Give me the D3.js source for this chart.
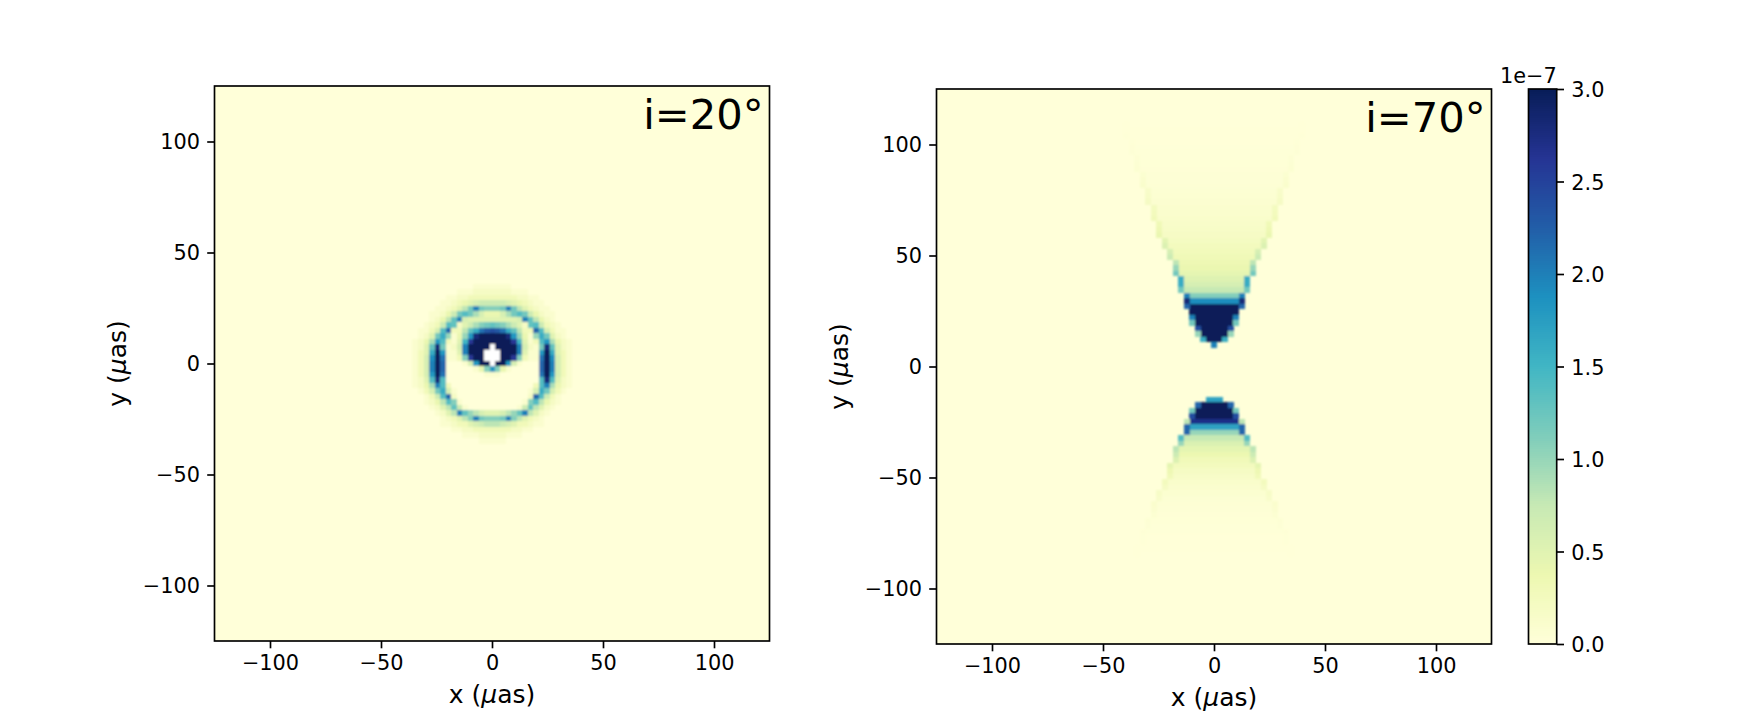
<!DOCTYPE html>
<html>
<head>
<meta charset="utf-8">
<script src="https://cdn.jsdelivr.net/npm/d3@7"></script>
<style>
html,body{margin:0;padding:0;background:#fff}
text{font-family:"DejaVu Sans",sans-serif;fill:#000}
</style>
</head>
<body>
<svg id="fig" width="1737" height="723"></svg>
<script>
// Colour stops of the intensity map, evenly spaced from 0 to vmax.
const mapColors = ["#ffffd9","#edf8b1","#c7e9b4","#7fcdbb","#41b6c4","#1d91c0","#225ea8","#253494","#081d58"];
const vmax = 30;               // tenths of 1e-7
const cellSize = 250 / 101;    // μas per pixel of the simulated image
const axisTicks = [-100, -50, 0, 50, 100];
const barTicks = [0, 0.5, 1, 1.5, 2, 2.5, 3];

// i=20°: rows from j=14 down to j=-14; each row lists |i|=0..14 (the image is left-right symmetric).
// Values in tenths of 1e-7, null marks pixels with no emission.
const ringRowIndex = [14,13,12,11,10,9,8,7,6,5,4,3,2,1,0,-1,-2,-3,-4,-5,-6,-7,-8,-9,-10,-11,-12,-13,-14];
const ringRows = [
  [1,1,1,1,0,0,0,0,0,0,0,0,0,0,0],
  [2,2,2,2,1,1,1,0,0,0,0,0,0,0,0],
  [3,3,3,3,3,2,2,1,1,0,0,0,0,0,0],
  [7,7,7,6,5,4,3,2,1,1,0,0,0,0,0],
  [11,11,12,20,12,8,5,3,2,1,1,0,0,0,0],
  [4,4,6,9,12,14,12,7,4,2,1,1,0,0,0],
  [5,5,5,5,5,6,20,13,8,4,2,1,0,0,0],
  [13,12,11,9,7,5,2,13,14,7,3,2,1,0,0],
  [24,23,21,16,13,8,3,3,22,14,6,3,1,1,0],
  [30,30,30,28,18,10,4,1,10,16,12,5,2,1,0],
  [30,30,30,30,26,15,5,1,3,14,18,9,4,2,1],
  [null,30,30,30,30,20,6,2,1,12,28,13,5,2,1],
  [null,null,30,30,30,20,5,1,1,18,30,16,5,3,1],
  [null,null,30,30,26,11,3,1,1,21,30,19,6,3,1],
  [null,30,30,18,6,1,0,0,0,22,30,20,6,3,1],
  [18,11,4,1,0,0,0,0,0,22,30,20,6,3,1],
  [1,1,0,0,0,0,0,0,0,21,30,18,6,3,1],
  [0,0,0,0,0,0,0,0,0,14,28,14,5,2,1],
  [0,0,0,0,0,0,0,0,3,14,20,9,4,2,1],
  [0,0,0,0,0,0,0,1,6,16,12,6,3,1,0],
  [0,0,0,0,0,0,0,2,22,14,7,3,1,0,0],
  [0,0,0,0,0,0,1,11,14,8,4,2,1,0,0],
  [0,0,0,0,0,1,7,13,8,5,2,1,0,0,0],
  [5,5,6,8,10,13,20,8,5,2,1,0,0,0,0],
  [11,11,12,20,11,8,5,3,2,1,0,0,0,0,0],
  [8,8,7,6,5,3,3,2,1,1,0,0,0,0,0],
  [3,3,3,3,2,2,1,1,0,0,0,0,0,0,0],
  [2,2,2,1,1,1,0,0,0,0,0,0,0,0,0],
  [1,1,1,0,0,0,0,0,0,0,0,0,0,0,0]
];

// i=70°: one entry per image row of the two jet cones.
const jetRowIndex = [4,5,6,7,8,9,10,11,12,13,14,15,16,17,18,19,20,21,22,23,24,25,26,27,28,29,30,31,32,33,34,35,36,37,38,39,40,41,42,43,44,
  -6,-7,-8,-9,-10,-11,-12,-13,-14,-15,-16,-17,-18,-19,-20,-21,-22,-23,-24,-25,-26,-27,-28,-29,-30,-31,-32,-33,-34];
const jetHalfWidth = [0,2,3,3,4,4,4,5,5,5,6,6,6,7,7,7,8,8,9,9,10,10,10,11,11,11,12,12,12,13,13,13,14,14,14,15,15,15,16,16,16,
  1,3,4,4,5,5,5,6,6,7,7,7,8,8,8,9,9,10,10,11,11,11,12,12,13,13,13,14,14];
const jetCore = [20,30,30,30,30,30,30,30,19,11,7.5,6,5.2,4.5,3.9,3.5,3.1,2.8,2.5,2.2,1.9,1.7,1.5,1.3,1.1,1,0.85,0.7,0.6,0.5,0.4,0.35,0.3,0.25,0.2,0.15,0.12,0.1,0.08,0.05,0.03,
  17,30,30,30,27,17,10,7.5,5.6,4.6,3.8,3,2.5,2,1.6,1.3,1,0.8,0.6,0.5,0.4,0.3,0.25,0.2,0.15,0.1,0.05,0.05,0.03];
const jetRim = [20,16,10,24,12,20,30,22,28,20,12,16,16,12,10,8,7,6,5.5,4.8,4,3.5,3.2,3,2.6,2.4,2,1.7,1.5,1.2,1,0.8,0.7,0.6,0.5,0.4,0.3,0.2,0.15,0.1,0.05,
  17,22,12,24,8,22,22,14,10,8,7,5.5,4.5,3.5,3,2.5,2,1.7,1.4,1.1,0.9,0.7,0.5,0.4,0.3,0.2,0.15,0.1,0.05];

const color = d3.scaleLinear()
  .domain(d3.range(mapColors.length).map(k => k * vmax / (mapColors.length - 1)))
  .range(mapColors)
  .clamp(true);

// Expand the tables into drawable cells.
const ringCells = ringRows.flatMap((row, r) => row.flatMap((v, a) =>
  (a === 0 ? [0] : [-a, a]).map(i => ({i, j: ringRowIndex[r], v}))));

const jetCells = jetRowIndex.flatMap((j, r) => {
  const hw = jetHalfWidth[r];
  const cells = [];
  for (let a = 0; a <= hw; a++) {
    const v = a === hw ? jetRim[r] : jetCore[r];
    (a === 0 ? [0] : [-a, a]).forEach(i => cells.push({i, j, v}));
  }
  return cells;
});

const svg = d3.select("#fig");
const defs = svg.append("defs");
defs.append("filter").attr("id", "soft")
  .attr("x", "-5%").attr("y", "-5%").attr("width", "110%").attr("height", "110%")
  .append("feGaussianBlur").attr("stdDeviation", 0.9);

function drawPanel(left, top, size, cells, label, id) {
  const x = d3.scaleLinear().domain([-125, 125]).range([left, left + size]);
  const y = d3.scaleLinear().domain([-125, 125]).range([top + size, top]);
  const g = svg.append("g");

  defs.append("clipPath").attr("id", id)
    .append("rect").attr("x", left).attr("y", top).attr("width", size).attr("height", size);

  g.append("rect").attr("x", left).attr("y", top).attr("width", size).attr("height", size)
    .attr("fill", color(0));

  g.append("g").attr("clip-path", `url(#${id})`)
    .append("g").attr("filter", "url(#soft)")
    .selectAll("rect").data(cells).join("rect")
    .attr("shape-rendering", "crispEdges")
    .attr("x", d => x((d.i - 0.5) * cellSize))
    .attr("y", d => y((d.j + 0.5) * cellSize))
    .attr("width", x(cellSize) - x(0) + 0.5)
    .attr("height", x(cellSize) - x(0) + 0.5)
    .attr("fill", d => d.v === null ? "#fff" : color(d.v));

  const axisBottom = d3.axisBottom(x).tickValues(axisTicks).tickSize(7.3).tickPadding(7.3).tickSizeOuter(0);
  const axisLeft = d3.axisLeft(y).tickValues(axisTicks).tickSize(7.3).tickPadding(7.3).tickSizeOuter(0);
  [[axisBottom, `translate(0,${top + size})`], [axisLeft, `translate(${left},0)`]].forEach(([ax, tf]) => {
    const a = g.append("g").attr("transform", tf).call(ax);
    a.select(".domain").remove();
    a.selectAll("line").attr("stroke", "#000").attr("stroke-width", 1.67);
    a.selectAll("text").attr("font-size", 20.83).attr("font-family", "DejaVu Sans");
  });

  g.append("rect").attr("x", left).attr("y", top).attr("width", size).attr("height", size)
    .attr("fill", "none").attr("stroke", "#000").attr("stroke-width", 1.67);

  g.append("text").attr("x", left + size - 6).attr("y", top + 43)
    .attr("text-anchor", "end").attr("font-size", 41.67).text(label);

  const xl = g.append("text").attr("x", left + size / 2).attr("y", top + size + 62)
    .attr("text-anchor", "middle").attr("font-size", 25);
  xl.append("tspan").text("x (");
  xl.append("tspan").attr("font-style", "italic").text("μ");
  xl.append("tspan").text("as)");

  const cy = top + size / 2;
  const yl = g.append("text").attr("transform", `translate(${left - 89},${cy}) rotate(-90)`)
    .attr("text-anchor", "middle").attr("font-size", 25);
  yl.append("tspan").text("y (");
  yl.append("tspan").attr("font-style", "italic").text("μ");
  yl.append("tspan").text("as)");
}

drawPanel(214.5, 86, 555, ringCells, "i=20°", "clipRing");
drawPanel(936.5, 89, 555, jetCells, "i=70°", "clipJet");

// Colour bar on the right of the second panel, one band per colormap level.
const barLeft = 1528.5, barRight = 1556.7, barTop = 89, barBottom = 644;
const barScale = d3.scaleLinear().domain([0, 3]).range([barBottom, barTop]);
const barLevels = d3.range(256);
const bar = svg.append("g");
bar.selectAll("rect").data(barLevels).join("rect")
  .attr("shape-rendering", "crispEdges")
  .attr("x", barLeft).attr("width", barRight - barLeft)
  .attr("y", k => barScale((k + 1) * 3 / 256))
  .attr("height", k => barScale(k * 3 / 256) - barScale((k + 1) * 3 / 256) + 0.5)
  .attr("fill", k => color((k + 0.5) * vmax / 256));
bar.append("rect").attr("x", barLeft).attr("y", barTop)
  .attr("width", barRight - barLeft).attr("height", barBottom - barTop)
  .attr("fill", "none").attr("stroke", "#000").attr("stroke-width", 1.67);
const barAxis = bar.append("g").attr("transform", `translate(${barRight},0)`)
  .call(d3.axisRight(barScale).tickValues(barTicks).tickFormat(d3.format(".1f")).tickSize(7.3).tickPadding(7.3).tickSizeOuter(0));
barAxis.select(".domain").remove();
barAxis.selectAll("line").attr("stroke", "#000").attr("stroke-width", 1.67);
barAxis.selectAll("text").attr("font-size", 20.83).attr("font-family", "DejaVu Sans").attr("dy", "0.36em");
bar.append("text").attr("x", barRight).attr("y", barTop - 6.5)
  .attr("text-anchor", "end").attr("font-size", 20.83).text("1e−7");
</script>
</body>
</html>
